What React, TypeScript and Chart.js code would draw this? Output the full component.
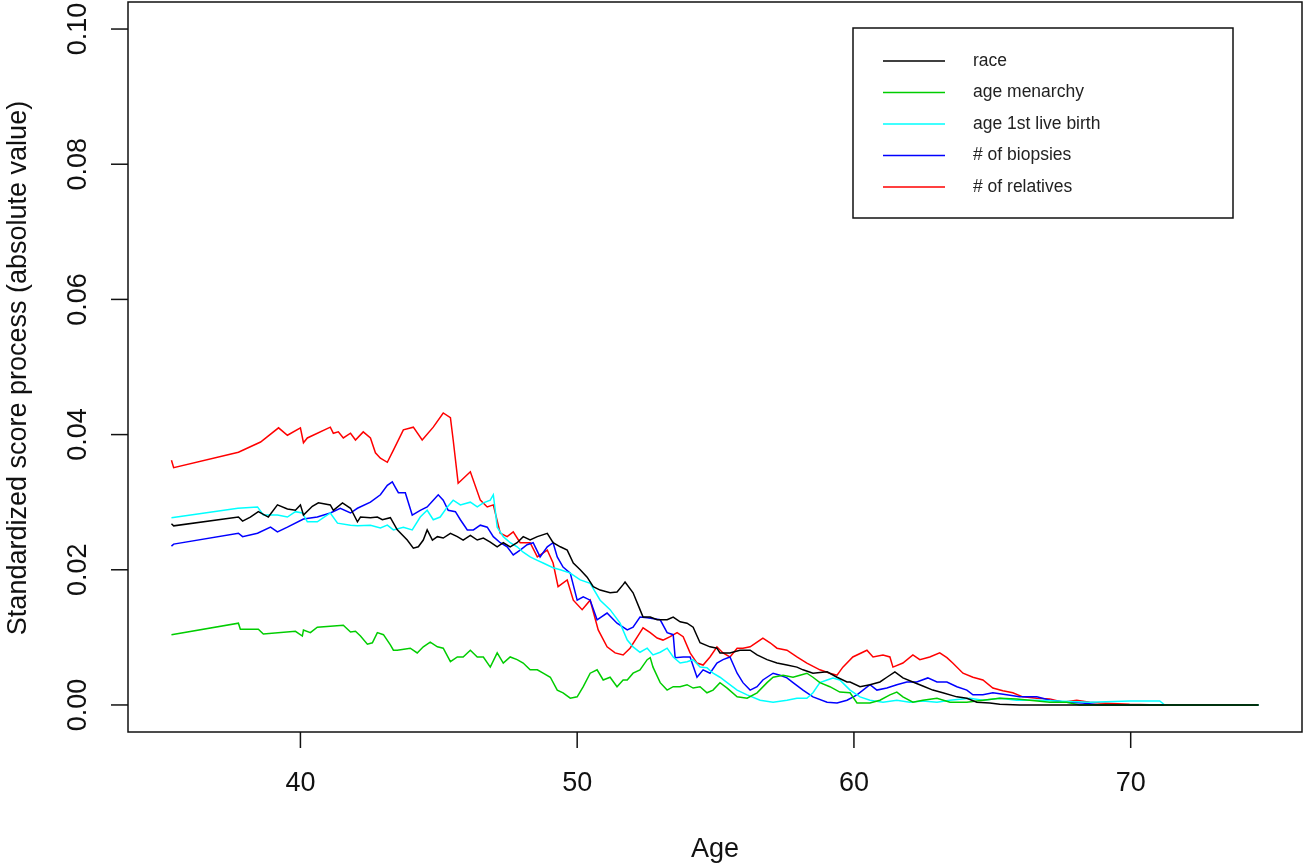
import React, { useEffect, useRef } from "react";
import { Chart, registerables } from "chart.js";

Chart.register(...registerables);

// ---- Data: [age, standardized score process (absolute value)] ----
const raceData: number[][] = [
  [35.34, 0.0268], [35.42, 0.0265], [37.76, 0.0278], [37.91, 0.0272], [38.19, 0.0278], [38.48, 0.0286],
  [38.84, 0.0278], [39.17, 0.0296], [39.53, 0.029], [39.82, 0.0288], [40.0, 0.0296], [40.11, 0.0281],
  [40.43, 0.0294], [40.65, 0.0299], [41.08, 0.0296], [41.19, 0.0288], [41.52, 0.0299], [41.81, 0.0291],
  [42.06, 0.0271], [42.17, 0.0278], [42.53, 0.0277], [42.78, 0.0278], [42.96, 0.0274], [43.25, 0.0277],
  [43.5, 0.0259], [43.86, 0.0244], [44.08, 0.0232], [44.26, 0.0234], [44.44, 0.0244], [44.58, 0.0259],
  [44.77, 0.0244], [44.95, 0.0249], [45.16, 0.0247], [45.42, 0.0254], [45.67, 0.0249], [45.88, 0.0244],
  [46.14, 0.0251], [46.39, 0.0244], [46.61, 0.0247], [46.86, 0.0241], [47.11, 0.0234], [47.33, 0.024],
  [47.58, 0.0234], [47.83, 0.024], [48.05, 0.0249], [48.3, 0.0244], [48.56, 0.0249], [48.92, 0.0254],
  [49.13, 0.024], [49.39, 0.0234], [49.64, 0.0229], [49.86, 0.021], [50.11, 0.02], [50.36, 0.0189],
  [50.58, 0.0175], [50.83, 0.017], [51.19, 0.0166], [51.44, 0.0167], [51.66, 0.0178], [51.73, 0.0182],
  [52.02, 0.0166], [52.27, 0.0141], [52.38, 0.013], [52.64, 0.013], [52.89, 0.0126], [53.25, 0.0126],
  [53.47, 0.013], [53.72, 0.0123], [53.97, 0.0121], [54.19, 0.0115], [54.44, 0.0092], [54.8, 0.0086],
  [55.05, 0.0084], [55.16, 0.0077], [55.52, 0.0077], [55.88, 0.0081], [56.25, 0.0081], [56.5, 0.0074],
  [56.86, 0.0067], [57.22, 0.0062], [57.58, 0.0059], [57.94, 0.0056], [58.16, 0.0052], [58.52, 0.0047],
  [59.03, 0.0049], [59.39, 0.0041], [59.75, 0.0034], [59.86, 0.0034], [60.22, 0.0027], [60.58, 0.003],
  [60.94, 0.0034], [61.19, 0.0041], [61.48, 0.0049], [61.77, 0.004], [62.13, 0.0034], [62.49, 0.0028],
  [62.85, 0.0022], [63.21, 0.0018], [63.72, 0.0012], [64.08, 0.001], [64.44, 0.0004], [64.91, 0.0003],
  [65.27, 0.0001], [65.99, 0.0], [74.62, 0.0],
];

const menarchyData: number[][] = [
  [35.34, 0.0104], [37.76, 0.0121], [37.83, 0.0112], [38.48, 0.0112], [38.66, 0.0105], [39.82, 0.0109],
  [40.07, 0.0102], [40.11, 0.0111], [40.36, 0.0107], [40.61, 0.0115], [41.55, 0.0118], [41.81, 0.0108],
  [41.99, 0.0109], [42.17, 0.0102], [42.42, 0.009], [42.6, 0.0092], [42.78, 0.0107], [43.0, 0.0104],
  [43.25, 0.0089], [43.36, 0.0081], [43.5, 0.0081], [43.97, 0.0084], [44.22, 0.0077], [44.44, 0.0086],
  [44.69, 0.0093], [44.95, 0.0086], [45.16, 0.0084], [45.42, 0.0064], [45.67, 0.0071], [45.88, 0.0071],
  [46.14, 0.0081], [46.39, 0.0071], [46.61, 0.0071], [46.86, 0.0056], [47.11, 0.0077], [47.33, 0.0062],
  [47.58, 0.0071], [47.83, 0.0067], [48.05, 0.0062], [48.3, 0.0052], [48.56, 0.0052], [48.77, 0.0047],
  [49.03, 0.0041], [49.28, 0.0022], [49.49, 0.0018], [49.75, 0.001], [50.0, 0.0012], [50.22, 0.0027],
  [50.47, 0.0047], [50.72, 0.0052], [50.94, 0.0037], [51.19, 0.0041], [51.44, 0.0027], [51.66, 0.0037],
  [51.81, 0.0037], [52.02, 0.0047], [52.27, 0.0052], [52.53, 0.0067], [52.64, 0.007], [52.74, 0.0056],
  [53.0, 0.0033], [53.25, 0.0022], [53.47, 0.0027], [53.72, 0.0027], [53.97, 0.003], [54.19, 0.0025],
  [54.44, 0.0027], [54.69, 0.0018], [54.91, 0.0022], [55.16, 0.0033], [55.42, 0.0025], [55.78, 0.0012],
  [56.14, 0.001], [56.5, 0.0018], [56.86, 0.0033], [57.08, 0.0041], [57.44, 0.0044], [57.8, 0.0041],
  [58.05, 0.0044], [58.3, 0.0047], [58.52, 0.0041], [58.77, 0.0033], [59.13, 0.0027], [59.49, 0.0019],
  [59.86, 0.0018], [60.11, 0.0003], [60.58, 0.0003], [60.94, 0.0007], [61.3, 0.0015], [61.55, 0.0019],
  [61.77, 0.0012], [62.13, 0.0004], [62.49, 0.0007], [63.0, 0.001], [63.47, 0.0004], [64.08, 0.0004],
  [64.66, 0.0007], [65.27, 0.001], [65.88, 0.0009], [66.35, 0.0007], [67.08, 0.0004], [67.69, 0.0004],
  [68.16, 0.0], [74.62, 0.0],
];

const firstBirthData: number[][] = [
  [35.34, 0.0277], [37.74, 0.0291], [38.45, 0.0293], [38.66, 0.0281], [39.17, 0.0281], [39.53, 0.0278],
  [39.82, 0.0286], [40.07, 0.0284], [40.25, 0.0271], [40.61, 0.0271], [40.83, 0.0277], [41.08, 0.0284],
  [41.34, 0.0269], [41.81, 0.0266], [42.06, 0.0265], [42.53, 0.0266], [42.89, 0.0262], [43.14, 0.0266],
  [43.36, 0.0259], [43.72, 0.0263], [44.04, 0.0259], [44.33, 0.0278], [44.58, 0.0288], [44.8, 0.0274],
  [45.05, 0.0278], [45.31, 0.0293], [45.52, 0.0303], [45.78, 0.0296], [46.14, 0.03], [46.39, 0.0293],
  [46.61, 0.0299], [46.86, 0.0303], [46.97, 0.0311], [47.04, 0.0288], [47.11, 0.0263], [47.33, 0.0249],
  [47.58, 0.024], [47.83, 0.0234], [48.05, 0.0226], [48.3, 0.0219], [48.56, 0.0214], [48.77, 0.021],
  [49.13, 0.0203], [49.39, 0.02], [49.75, 0.0195], [50.11, 0.0185], [50.47, 0.018], [50.83, 0.0155],
  [51.19, 0.0141], [51.55, 0.0121], [51.81, 0.0096], [52.02, 0.0086], [52.27, 0.0078], [52.53, 0.0084],
  [52.74, 0.0074], [53.0, 0.0078], [53.25, 0.0084], [53.47, 0.0071], [53.72, 0.0062], [53.97, 0.0064],
  [54.19, 0.0067], [54.44, 0.0056], [54.69, 0.0055], [54.91, 0.0047], [55.16, 0.0041], [55.42, 0.0033],
  [55.78, 0.0022], [56.14, 0.0015], [56.61, 0.0007], [57.08, 0.0004], [57.58, 0.0007], [57.94, 0.001],
  [58.3, 0.001], [58.52, 0.0018], [58.77, 0.0033], [59.03, 0.0037], [59.24, 0.004], [59.49, 0.0037],
  [59.86, 0.0022], [60.22, 0.0012], [60.58, 0.0007], [61.05, 0.0004], [61.55, 0.0007], [62.02, 0.0004],
  [62.49, 0.0006], [63.0, 0.0004], [63.47, 0.0007], [64.19, 0.001], [64.66, 0.0007], [65.27, 0.001],
  [65.88, 0.0007], [66.61, 0.0007], [67.33, 0.0006], [68.52, 0.0004], [69.96, 0.0006], [71.05, 0.0006],
  [71.23, 0.0], [74.62, 0.0],
];

const biopsiesData: number[][] = [
  [35.34, 0.0235], [35.42, 0.0238], [37.76, 0.0254], [37.91, 0.0249], [38.45, 0.0254], [38.92, 0.0263],
  [39.17, 0.0256], [39.53, 0.0263], [40.11, 0.0275], [40.61, 0.0278], [41.08, 0.0284], [41.44, 0.0291],
  [41.81, 0.0284], [42.06, 0.0291], [42.53, 0.03], [42.89, 0.0311], [43.14, 0.0325], [43.32, 0.033],
  [43.43, 0.0322], [43.54, 0.0314], [43.79, 0.0314], [44.04, 0.0281], [44.33, 0.0288], [44.58, 0.0293],
  [44.8, 0.0303], [44.98, 0.0311], [45.16, 0.0303], [45.34, 0.0288], [45.6, 0.0286], [45.78, 0.0274],
  [46.03, 0.0259], [46.25, 0.0259], [46.5, 0.0266], [46.75, 0.0263], [46.97, 0.0249], [47.22, 0.024],
  [47.47, 0.0234], [47.69, 0.0222], [47.94, 0.0229], [48.19, 0.0237], [48.41, 0.024], [48.66, 0.0219],
  [48.92, 0.0234], [49.13, 0.024], [49.28, 0.0219], [49.49, 0.0204], [49.75, 0.0195], [50.0, 0.0155],
  [50.22, 0.016], [50.47, 0.0155], [50.72, 0.0126], [51.08, 0.0136], [51.44, 0.0121], [51.81, 0.0111],
  [52.02, 0.0115], [52.27, 0.013], [52.53, 0.0129], [53.0, 0.0126], [53.25, 0.0107], [53.47, 0.0104],
  [53.54, 0.007], [53.83, 0.0071], [54.08, 0.0071], [54.33, 0.0041], [54.55, 0.0052], [54.8, 0.0047],
  [55.05, 0.0062], [55.27, 0.0067], [55.52, 0.0071], [55.78, 0.0047], [55.99, 0.0033], [56.25, 0.0022],
  [56.5, 0.0027], [56.71, 0.0037], [57.08, 0.0047], [57.33, 0.0044], [57.58, 0.004], [57.8, 0.0033],
  [58.16, 0.0022], [58.52, 0.0012], [59.03, 0.0004], [59.39, 0.0003], [59.75, 0.0007], [60.11, 0.0015],
  [60.58, 0.003], [60.83, 0.0022], [61.19, 0.0025], [61.55, 0.003], [61.91, 0.0034], [62.27, 0.0034],
  [62.67, 0.004], [63.0, 0.0034], [63.36, 0.0034], [63.72, 0.0027], [64.08, 0.0022], [64.3, 0.0015],
  [64.66, 0.0015], [65.02, 0.0018], [65.52, 0.0015], [65.99, 0.0012], [66.61, 0.0012], [67.08, 0.0007],
  [67.69, 0.0004], [68.27, 0.0003], [68.88, 0.0], [74.62, 0.0],
];

const relativesData: number[][] = [
  [35.34, 0.0362], [35.42, 0.0351], [37.76, 0.0374], [38.56, 0.0389], [39.21, 0.041], [39.53, 0.0399],
  [40.0, 0.041], [40.11, 0.0388], [40.25, 0.0395], [41.08, 0.0411], [41.19, 0.0402], [41.37, 0.0404],
  [41.55, 0.0395], [41.81, 0.0402], [41.99, 0.0392], [42.27, 0.0404], [42.53, 0.0395], [42.71, 0.0373],
  [42.89, 0.0365], [43.14, 0.0359], [43.36, 0.0377], [43.72, 0.0407], [44.08, 0.0411], [44.4, 0.0392],
  [44.8, 0.0411], [45.16, 0.0432], [45.42, 0.0425], [45.52, 0.0392], [45.7, 0.0328], [46.14, 0.0345],
  [46.5, 0.0303], [46.75, 0.0293], [46.97, 0.0296], [47.22, 0.0254], [47.47, 0.0249], [47.69, 0.0256],
  [47.94, 0.024], [48.3, 0.024], [48.56, 0.0219], [48.92, 0.0229], [49.13, 0.021], [49.31, 0.0175],
  [49.64, 0.0185], [49.86, 0.0155], [50.18, 0.0141], [50.47, 0.0155], [50.76, 0.0111], [51.08, 0.0086],
  [51.37, 0.0077], [51.66, 0.0074], [51.91, 0.0084], [52.27, 0.0107], [52.38, 0.0114], [52.64, 0.0107],
  [52.89, 0.0099], [53.1, 0.0096], [53.36, 0.0101], [53.61, 0.0107], [53.83, 0.0101], [54.08, 0.0077],
  [54.33, 0.0062], [54.55, 0.0059], [54.8, 0.0071], [55.05, 0.0086], [55.27, 0.0077], [55.52, 0.0071],
  [55.78, 0.0084], [55.99, 0.0084], [56.25, 0.0086], [56.5, 0.0093], [56.71, 0.0099], [56.97, 0.0092],
  [57.22, 0.0084], [57.58, 0.0081], [57.94, 0.0071], [58.3, 0.0062], [58.77, 0.0052], [59.13, 0.0047],
  [59.39, 0.0044], [59.6, 0.0056], [59.96, 0.0071], [60.47, 0.0081], [60.69, 0.0071], [61.05, 0.0074],
  [61.3, 0.0071], [61.41, 0.0056], [61.77, 0.0062], [62.13, 0.0074], [62.38, 0.0067], [62.74, 0.0071],
  [63.1, 0.0077], [63.36, 0.007], [63.57, 0.0062], [63.94, 0.0047], [64.3, 0.0041], [64.66, 0.0037],
  [65.02, 0.0025], [65.38, 0.0021], [65.74, 0.0018], [66.1, 0.0012], [66.61, 0.001], [67.08, 0.0009],
  [67.55, 0.0004], [68.05, 0.0007], [68.52, 0.0004], [68.88, 0.0003], [69.96, 0.0001], [71.05, 0.0],
  [74.62, 0.0],
];

const seriesLabels = ["race", "age menarchy", "age 1st live birth", "# of biopsies", "# of relatives"];
const seriesColors = ["#000000", "#00CD00", "#00FFFF", "#0000FF", "#FF0000"];
const seriesData = [raceData, menarchyData, firstBirthData, biopsiesData, relativesData];

const xTicks = [40, 50, 60, 70];
const yTicks = [0, 0.02, 0.04, 0.06, 0.08, 0.1];
const yTickLabels = ["0.00", "0.02", "0.04", "0.06", "0.08", "0.10"];
const xTitle = "Age";
const yTitle = "Standardized score process (absolute value)";

const FONT = '"Liberation Sans", Arial, Helvetica, sans-serif';

const rBasePlugin = {
  id: "rBase",
  afterDraw(chart: any) {
    const { ctx, chartArea, scales } = chart;
    const { left, right, top, bottom } = chartArea;
    const xs = scales.x;
    const ys = scales.y;
    ctx.save();
    ctx.strokeStyle = "#111";
    ctx.fillStyle = "#111";
    ctx.lineWidth = 1.5;
    // plot box
    ctx.strokeRect(left, top, right - left, bottom - top);

    // x axis ticks & labels
    ctx.font = `27px ${FONT}`;
    ctx.textAlign = "center";
    ctx.textBaseline = "middle";
    xTicks.forEach((v) => {
      const px = xs.getPixelForValue(v);
      ctx.beginPath();
      ctx.moveTo(px, bottom);
      ctx.lineTo(px, bottom + 16);
      ctx.stroke();
      ctx.fillText(String(v), px, 784);
    });

    // y axis ticks & labels (rotated, R style)
    yTicks.forEach((v, i) => {
      const py = ys.getPixelForValue(v);
      ctx.beginPath();
      ctx.moveTo(left, py);
      ctx.lineTo(left - 17, py);
      ctx.stroke();
      ctx.save();
      ctx.translate(79, py);
      ctx.rotate(-Math.PI / 2);
      ctx.fillText(yTickLabels[i], 0, 0);
      ctx.restore();
    });

    // axis titles
    ctx.font = `27px ${FONT}`;
    ctx.fillText(xTitle, (left + right) / 2, 850);
    ctx.save();
    ctx.translate(19, 368);
    ctx.rotate(-Math.PI / 2);
    ctx.fillText(yTitle, 0, 0);
    ctx.restore();

    // legend
    const bx = 853, by = 28, bw = 380, bh = 190;
    ctx.fillStyle = "#fff";
    ctx.fillRect(bx, by, bw, bh);
    ctx.strokeStyle = "#111";
    ctx.lineWidth = 1.5;
    ctx.strokeRect(bx, by, bw, bh);
    ctx.font = `17.5px ${FONT}`;
    ctx.textAlign = "left";
    ctx.textBaseline = "middle";
    chart.data.datasets.forEach((ds: any, i: number) => {
      const ry = 61 + i * 31.5;
      ctx.strokeStyle = ds.borderColor;
      ctx.lineWidth = 1.5;
      ctx.beginPath();
      ctx.moveTo(883, ry);
      ctx.lineTo(945, ry);
      ctx.stroke();
      ctx.fillStyle = "#222";
      ctx.fillText(ds.label, 973, ry);
    });
    ctx.restore();
  },
};

export default function App() {
  const ref = useRef<HTMLCanvasElement | null>(null);
  useEffect(() => {
    if (!ref.current) return;
    const chart = new Chart(ref.current, {
      type: "line",
      data: {
        datasets: seriesData.map((d, i) => ({
          label: seriesLabels[i],
          data: d.map((p) => ({ x: p[0], y: p[1] })),
          borderColor: seriesColors[i],
          backgroundColor: seriesColors[i],
          borderWidth: 1.5,
          pointRadius: 0,
          tension: 0,
          fill: false,
        })),
      },
      options: {
        animation: false,
        responsive: false,
        maintainAspectRatio: false,
        events: [],
        layout: { padding: { left: 128, right: 3, top: 2, bottom: 135 } },
        plugins: { legend: { display: false }, tooltip: { enabled: false }, title: { display: false } },
        scales: {
          x: { type: "linear", display: false, min: 33.77, max: 76.19 },
          y: { type: "linear", display: false, min: -0.004, max: 0.104 },
        },
      },
      plugins: [rBasePlugin],
    });
    return () => chart.destroy();
  }, []);
  return (
    <div style={{ position: "fixed", left: 0, top: 0, width: 1305, height: 867, background: "#fff" }}>
      <canvas ref={ref} width={1305} height={867} style={{ width: 1305, height: 867, display: "block" }} />
    </div>
  );
}
